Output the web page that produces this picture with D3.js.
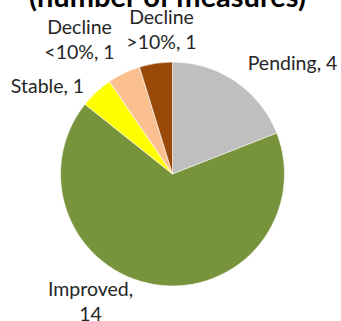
<!DOCTYPE html>
<html>
<head>
<meta charset="utf-8">
<script src="https://cdn.jsdelivr.net/npm/d3@7"></script>
<style>
  html, body { margin: 0; padding: 0; background: #fff; }
  svg { display: block; }
  .lbl { font-family: Lato, "Open Sans", sans-serif; font-size: 19.5px; fill: #262626; }
  .title { font-family: Lato, "Open Sans", sans-serif; font-weight: bold; font-size: 29px; fill: #000; }
</style>
</head>
<body>
<svg id="chart" width="341" height="321"></svg>
<script>
// Measures by trend status
const categories = ["Pending", "Improved", "Stable", "Decline <10%", "Decline >10%"];
const values = [4, 14, 1, 1, 1];
const labelLines = [
  ["Pending, 4"],
  ["Improved,", "14"],
  ["Stable, 1"],
  ["Decline", "<10%, 1"],
  ["Decline", ">10%, 1"]
];
const titleText = "(number of measures)";

// Styling / layout
const colors = ["#BFBFBF", "#77933C", "#FFFF00", "#FAC090", "#984807"];
const cx = 172.5, cy = 174, radius = 112;
// label anchor (x of text centre, baseline of first line) relative to pie centre
const labelAnchor = [
  [120, -104],
  [-82, 122],
  [-125, -81],
  [-93, -140],
  [-11, -150]
];
const lineGap = 24.5;

const svg = d3.select("#chart");

svg.append("text")
  .attr("class", "title")
  .attr("x", 167.5)
  .attr("y", 7)
  .attr("text-anchor", "middle")
  .text(titleText);

const pie = d3.pie().sort(null).value(d => d)(values);
const arc = d3.arc().innerRadius(0).outerRadius(radius);

const g = svg.append("g").attr("transform", `translate(${cx},${cy})`);

g.selectAll("path.slice")
  .data(pie)
  .join("path")
  .attr("class", "slice")
  .attr("d", arc)
  .attr("fill", (d, i) => colors[i])
  .attr("stroke", "#ffffff")
  .attr("stroke-width", 0.6);

const labels = g.selectAll("text.lbl")
  .data(pie)
  .join("text")
  .attr("class", "lbl")
  .attr("text-anchor", "middle")
  .attr("transform", (d, i) => `translate(${labelAnchor[i][0]},${labelAnchor[i][1]})`);

labels.selectAll("tspan")
  .data((d, i) => labelLines[i])
  .join("tspan")
  .attr("x", 0)
  .attr("y", (t, j) => j * lineGap)
  .text(t => t);
</script>
</body>
</html>
